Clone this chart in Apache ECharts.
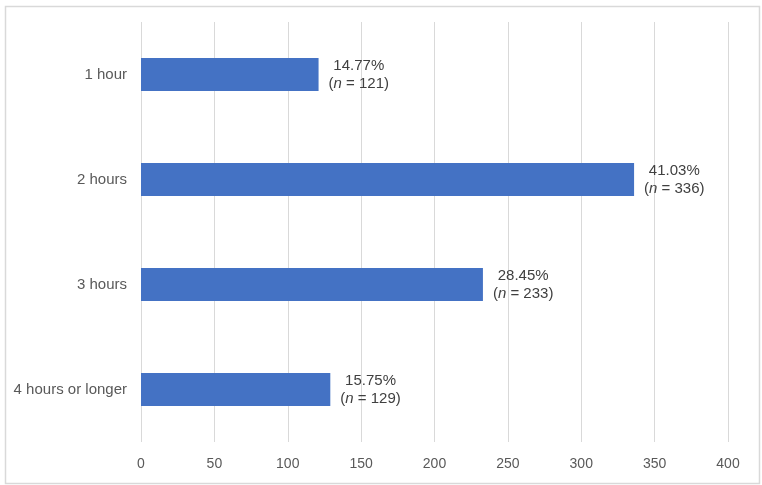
<!DOCTYPE html>
<html>
<head>
<meta charset="utf-8">
<script src="https://cdn.jsdelivr.net/npm/echarts@6/dist/echarts.min.js"></script>
<style>
  html, body { margin: 0; padding: 0; background: #fff; }
  #chart { width: 762px; height: 485px; }
</style>
</head>
<body>
<div id="chart"></div>
<script>
const categories = ['1 hour', '2 hours', '3 hours', '4 hours or longer'];
const counts = [121, 336, 233, 129];
const percents = ['14.77%', '41.03%', '28.45%', '15.75%'];

const chart = echarts.init(document.getElementById('chart'));

const option = {
  animation: false,
  textStyle: { fontFamily: '"Liberation Sans", Arial, sans-serif' },
  graphic: [{
    type: 'rect',
    left: 3,
    top: 4,
    shape: { width: 754, height: 477 },
    style: { fill: 'none', stroke: '#d9d9d9', lineWidth: 1.5 },
    silent: true
  }],
  grid: { left: 141, right: 34, top: 22, bottom: 43 },
  xAxis: {
    type: 'value',
    min: 0,
    max: 400,
    interval: 50,
    axisLine: { show: false },
    axisTick: { show: false },
    axisLabel: { color: '#595959', fontSize: 14, margin: 15 },
    splitLine: { lineStyle: { color: '#d9d9d9', width: 1 } }
  },
  yAxis: {
    type: 'category',
    inverse: true,
    data: categories,
    axisLine: { show: false },
    axisTick: { show: false },
    axisLabel: { color: '#595959', fontSize: 15, margin: 14 }
  },
  series: [{
    type: 'bar',
    data: counts,
    barWidth: 33,
    itemStyle: { color: '#4472c4' },
    label: {
      show: true,
      position: 'right',
      distance: 10,
      formatter: (p) => '{a|' + percents[p.dataIndex] + '}\n{b|(}{i|n}{b| = ' + p.value + ')}',
      rich: {
        a: { color: '#404040', fontSize: 15, lineHeight: 18, align: 'center' },
        b: { color: '#404040', fontSize: 15, lineHeight: 18 },
        i: { color: '#404040', fontSize: 15, lineHeight: 18, fontStyle: 'italic' }
      }
    }
  }]
};

chart.setOption(option);
</script>
</body>
</html>
